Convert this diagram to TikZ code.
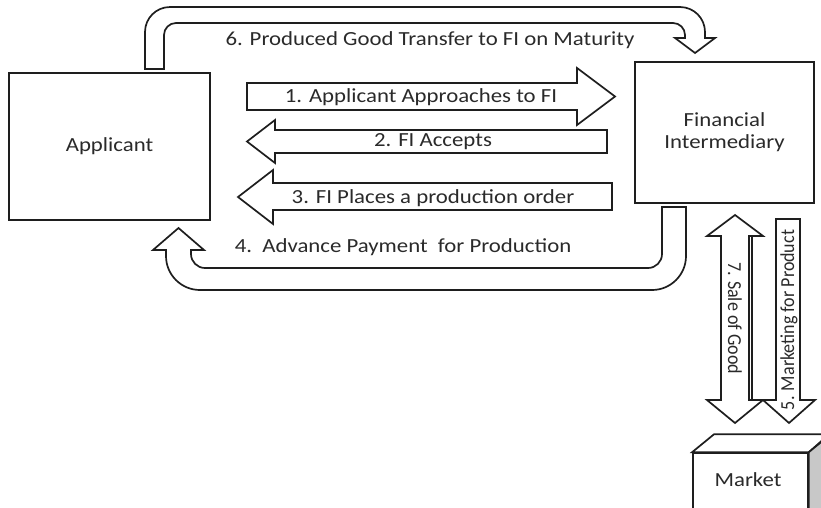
\documentclass[tikz,border=0pt]{standalone}
\usepackage{fontspec}
\setmainfont{Carlito}
\definecolor{ink}{HTML}{1E1E1E}
\definecolor{txt}{HTML}{2A2A2A}
\definecolor{sideface}{HTML}{C8C8C8}
\newcommand{\wide}[1]{\scalebox{1.14}[1]{#1}}
\newcommand{\tall}[1]{\scalebox{1}[1.1]{#1}}
\begin{document}
\begin{tikzpicture}[x=1pt,y=-1pt]
\tikzset{
  outline/.style={draw=ink, fill=white, line width=1.7pt, line join=miter},
  box/.style={outline, inner sep=0pt, text=txt, font=\fontsize{20}{22}\selectfont, align=center},
  lbl/.style={text=txt, inner sep=0pt, font=\fontsize{20}{24}\selectfont},
  vlbl/.style={text=txt, inner sep=0pt, font=\fontsize{18}{22}\selectfont},
}
\useasboundingbox (0,0) rectangle (821,507);
\clip (0,0) rectangle (821,507);

% parties
\node[box, minimum width=201pt, minimum height=147pt] (app) at (109.5,146.5) {\wide{Applicant}};
\node[box, minimum width=179pt, minimum height=141pt] (fi) at (724.5,132.5) {\wide{Financial}\\\wide{Intermediary}};

% 6: U-turn arrow over the top, Applicant -> FI
\draw[outline] (145,69) -- (145,32) arc[start angle=180, end angle=270, radius=25]
  -- (680,7) arc[start angle=270, end angle=360, radius=25]
  -- (705,38) -- (715,38) -- (695,53) -- (675,38) -- (685,38)
  -- (685,35) arc[start angle=0, end angle=-90, radius=12]
  -- (176,23) arc[start angle=270, end angle=180, radius=12]
  -- (164,69) -- cycle;
\node[lbl] (l6) at (430,40) {\wide{6. Produced Good Transfer to FI on Maturity}};

% 1-3: straight block arrows
\draw[outline] (247,83) -- (577,83) -- (577,68) -- (615,96.5) -- (577,125) -- (577,110) -- (247,110) -- cycle;
\node[lbl] (l1) at (421,97) {\wide{1. Applicant Approaches to FI}};
\draw[outline] (607,130) -- (275,130) -- (275,120) -- (247,141.5) -- (275,163) -- (275,153) -- (607,153) -- cycle;
\node[lbl] (l2) at (433,142) {\wide{2. FI Accepts}};
\draw[outline] (612,183) -- (273,183) -- (273,170) -- (238,197) -- (273,224) -- (273,210) -- (612,210) -- cycle;
\node[lbl] (l3) at (433,198) {\wide{3. FI Places a production order}};

% 4: U-turn arrow underneath, FI -> Applicant
\draw[outline] (178.5,228) -- (204,250) -- (191,250)
  -- (191,254) arc[start angle=180, end angle=90, radius=14]
  -- (648,268) arc[start angle=90, end angle=0, radius=14]
  -- (662,207) -- (686,207)
  -- (686,256) arc[start angle=0, end angle=90, radius=34]
  -- (200,290) arc[start angle=90, end angle=180, radius=34]
  -- (166,250) -- (153,250) -- cycle;
\node[lbl] (l4) at (403,247) {\wide{4.\ \ Advance Payment\ \ for Production}};

% market block
\node[outline, minimum width=115pt, minimum height=77pt, inner sep=0pt] (market) at (750.5,491.5) {};
\draw[outline] (market.north west) -- ++(22,-18) -- ++(115,0) -- (market.north east) -- cycle;
\draw[outline, fill=sideface] (market.north east) -- ++(22,-18) -- ++(0,77) -- (market.south east) -- cycle;
\node[lbl] (lm) at (748,480) {\wide{Market}};

% 5 and 7: vertical arrows between FI and market
\draw[outline] (776,219) -- (800,219) -- (800,400) -- (815,400) -- (789,423) -- (763,400) -- (776,400) -- cycle;
\draw[draw=ink, line width=1.7pt] (752,236) -- (752,400);
\node[vlbl, rotate=90] (l5) at (789,320) {\tall{5. Marketing for Product}};
\draw[outline] (735,215) -- (763,236) -- (749,236) -- (749,400) -- (763,400) -- (735,423)
  -- (707,400) -- (721,400) -- (721,236) -- (707,236) -- cycle;
\node[vlbl, rotate=-90] (l7) at (735,318) {\tall{7. Sale of Good}};
\end{tikzpicture}
\end{document}
